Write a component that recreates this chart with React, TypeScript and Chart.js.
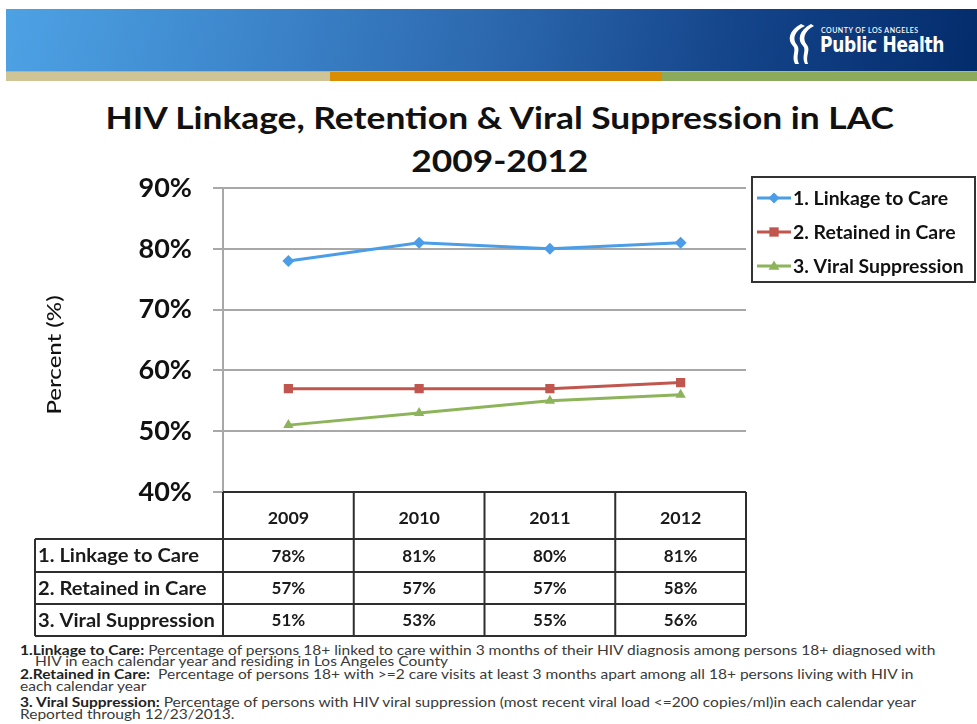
import React, { useEffect, useRef } from "react";
import { Chart, registerables } from "chart.js";

Chart.register(...registerables);

// ---- data ----
const years = ["2009", "2010", "2011", "2012"];
const linkageToCare = [78, 81, 80, 81];
const retainedInCare = [57, 57, 57, 58];
const viralSuppression = [51, 53, 55, 56];
const seriesLabels = ["1. Linkage to Care", "2. Retained in Care", "3. Viral Suppression"];
const seriesColors = ["#4A9DE6", "#C0564E", "#8DB45A"];
const seriesPoints = ["rectRot", "rect", "triangle"];
const yMin = 40;
const yMax = 90;
const yStep = 10;
const yAxisTitle = "Percent (%)";
const titleLine1 = "HIV Linkage, Retention & Viral Suppression in LAC";
const titleLine2 = "2009-2012";

const FONT = "Lato, 'Open Sans', 'DejaVu Sans', sans-serif";

function drawMarker(ctx: CanvasRenderingContext2D, style: string, x: number, y: number, r: number, color: string) {
  ctx.save();
  ctx.fillStyle = color;
  ctx.beginPath();
  if (style === "rectRot") {
    ctx.moveTo(x, y - r);
    ctx.lineTo(x + r, y);
    ctx.lineTo(x, y + r);
    ctx.lineTo(x - r, y);
  } else if (style === "rect") {
    ctx.rect(x - r * 0.85, y - r * 0.85, r * 1.7, r * 1.7);
  } else {
    ctx.moveTo(x, y - r);
    ctx.lineTo(x + r, y + r * 0.7);
    ctx.lineTo(x - r, y + r * 0.7);
  }
  ctx.closePath();
  ctx.fill();
  ctx.restore();
}

function fillStretched(ctx: CanvasRenderingContext2D, text: string, x: number, y: number, sx: number) {
  ctx.save();
  ctx.translate(x, y);
  ctx.scale(sx, 1);
  ctx.fillText(text, 0, 0);
  ctx.restore();
}

const tablePlugin = {
  id: "dataTable",
  afterDraw(chart: any) {
    const ctx: CanvasRenderingContext2D = chart.ctx;
    const area = chart.chartArea;
    const xs = chart.scales.x;
    const n = years.length;
    const colW = (area.right - area.left) / n;
    const top = area.bottom;
    const rows = [top, top + 47, top + 80, top + 112, top + 144];
    const tableLeft = 35;
    ctx.save();
    ctx.strokeStyle = "#2e2e2e";
    ctx.lineWidth = 2;
    ctx.beginPath();
    ctx.moveTo(area.left, rows[0]);
    ctx.lineTo(area.right, rows[0]);
    for (let r = 1; r < rows.length; r++) {
      ctx.moveTo(tableLeft, rows[r]);
      ctx.lineTo(area.right, rows[r]);
    }
    for (let i = 0; i <= n; i++) {
      const x = area.left + i * colW;
      ctx.moveTo(x, rows[0]);
      ctx.lineTo(x, rows[4]);
    }
    ctx.moveTo(tableLeft, rows[1]);
    ctx.lineTo(tableLeft, rows[4]);
    ctx.stroke();

    ctx.fillStyle = "#1a1a1a";
    ctx.textBaseline = "middle";
    ctx.font = `bold 17px ${FONT}`;
    ctx.textAlign = "center";
    years.forEach((yr, i) => {
      fillStretched(ctx, yr, xs.getPixelForValue(i), (rows[0] + rows[1]) / 2 + 3, 1.05);
    });
    chart.data.datasets.forEach((ds: any, r: number) => {
      const cy = (rows[r + 1] + rows[r + 2]) / 2 + 1;
      ctx.textAlign = "left";
      ctx.font = `bold 18px ${FONT}`;
      fillStretched(ctx, ds.label, tableLeft + 3, cy, 1.12);
      ctx.textAlign = "center";
      ctx.font = `bold 17px ${FONT}`;
      ds.data.forEach((v: number, i: number) => {
        fillStretched(ctx, v + "%", xs.getPixelForValue(i), cy, 1.0);
      });
    });

    // y axis title
    ctx.save();
    ctx.translate(55, 355);
    ctx.rotate(-Math.PI / 2);
    ctx.scale(1.2, 1);
    ctx.textAlign = "center";
    ctx.textBaseline = "middle";
    ctx.font = `500 20px ${FONT}`;
    ctx.fillStyle = "#111";
    ctx.fillText(yAxisTitle, 0, 0);
    ctx.restore();

    // legend box
    const lx = 752, ly = 177, lw = 223, lh = 105;
    ctx.strokeStyle = "#333";
    ctx.lineWidth = 2;
    ctx.fillStyle = "#fff";
    ctx.fillRect(lx, ly, lw, lh);
    ctx.strokeRect(lx, ly, lw, lh);
    const ys = [198, 232, 266];
    chart.data.datasets.forEach((ds: any, i: number) => {
      const y = ys[i];
      ctx.strokeStyle = ds.borderColor;
      ctx.lineWidth = 3;
      ctx.beginPath();
      ctx.moveTo(757, y);
      ctx.lineTo(791, y);
      ctx.stroke();
      drawMarker(ctx, ds.pointStyle, 774, y, 5.5, ds.borderColor);
      ctx.fillStyle = "#111";
      ctx.textAlign = "left";
      ctx.textBaseline = "middle";
      ctx.font = `bold 18px ${FONT}`;
      fillStretched(ctx, ds.label, 793, y + 1, 1.08);
    });
    ctx.restore();
  },
};

function Logo() {
  return (
    <div style={{ position: "absolute", left: 783, top: 18, width: 170, height: 50 }}>
      <svg width="40" height="50" style={{ position: "absolute", left: 0, top: 0 }}>
        <path d="M18 6 C6 12 4 22 10 28 C14 32 8 38 12 46 L16 46 C12 38 18 32 14 27 C9 21 11 13 22 8 Z" fill="#fff" />
        <path d="M28 6 C16 12 14 22 20 28 C24 32 18 38 22 46 L25 46 C22 38 28 32 24 27 C19 21 21 13 31 8 Z" fill="#fff" />
      </svg>
      <div style={{ position: "absolute", left: 38, top: 8, color: "#fff", fontFamily: FONT, fontSize: 7, fontWeight: 600, letterSpacing: 0.5, whiteSpace: "nowrap" }}>
        COUNTY OF LOS ANGELES
      </div>
      <div style={{ position: "absolute", left: 37, top: 15, color: "#fff", fontFamily: "'DejaVu Sans Condensed', 'Liberation Sans Narrow', " + FONT, fontSize: 21, fontWeight: 800, whiteSpace: "nowrap", letterSpacing: -0.3, transform: "scaleX(0.9)", transformOrigin: "left center" }}>
        Public Health
      </div>
    </div>
  );
}

const footLines: { bold: string; text: string; left: number; top: number }[] = [
  { bold: "1.Linkage to Care:", text: " Percentage of persons 18+ linked to care within 3 months of their HIV diagnosis among persons 18+ diagnosed with", left: 20, top: 643 },
  { bold: "", text: "HIV in each calendar year and residing in Los Angeles County", left: 35, top: 654 },
  { bold: "2.Retained in Care:", text: "  Percentage of persons 18+ with >=2 care visits at least 3 months apart among all 18+ persons living with HIV in", left: 20, top: 667 },
  { bold: "", text: "each calendar year", left: 20, top: 679 },
  { bold: "3. Viral Suppression:", text: " Percentage of persons with HIV viral suppression (most recent viral load <=200 copies/ml)in each calendar year", left: 20, top: 695 },
  { bold: "", text: "Reported through 12/23/2013.", left: 20, top: 707 },
];

export default function App() {
  const canvasRef = useRef<HTMLCanvasElement | null>(null);

  useEffect(() => {
    if (!canvasRef.current) return;
    const chart = new Chart(canvasRef.current, {
      type: "line",
      data: {
        labels: years,
        datasets: [linkageToCare, retainedInCare, viralSuppression].map((d, i) => ({
          label: seriesLabels[i],
          data: d,
          borderColor: seriesColors[i],
          backgroundColor: seriesColors[i],
          borderWidth: 3,
          pointStyle: seriesPoints[i] as any,
          pointRadius: i === 1 ? 6.5 : 6,
          pointBorderWidth: 0,
          tension: 0,
        })),
      },
      options: {
        animation: false,
        responsive: false,
        devicePixelRatio: 1,
        layout: { padding: { left: 100, top: 188, right: 231, bottom: 232 } },
        plugins: { legend: { display: false }, tooltip: { enabled: false }, title: { display: false } },
        scales: {
          x: {
            display: false,
            offset: true,
          },
          y: {
            min: yMin,
            max: yMax,
            afterFit: (s: any) => {
              s.width = 123;
            },
            ticks: {
              stepSize: yStep,
              padding: 21,
              color: "#111",
              font: { family: FONT, size: 27, weight: "bold" },
              callback: (v: any) => v + "%",
            },
            grid: { color: "#A8A8A8", lineWidth: 2, tickLength: 10 },
            border: { color: "#A8A8A8", width: 2 },
          },
        },
      },
      plugins: [tablePlugin],
    });
    return () => chart.destroy();
  }, []);

  return (
    <div style={{ position: "absolute", left: 0, top: 0, width: 977, height: 724, background: "#fff", overflow: "hidden" }}>
      <div
        style={{
          position: "absolute",
          left: 6,
          top: 9,
          width: 971,
          height: 62,
          background: "linear-gradient(100deg, #4DA2E4 0%, #3D86CC 25%, #2C68AE 50%, #14448A 75%, #032C6C 100%)",
        }}
      />
      <div style={{ position: "absolute", left: 6, top: 71, width: 971, height: 1, background: "#9DB3C8" }} />
      <div style={{ position: "absolute", left: 6, top: 72, width: 324, height: 9, background: "#CFC496" }} />
      <div style={{ position: "absolute", left: 330, top: 72, width: 332, height: 9, background: "#D98E02" }} />
      <div style={{ position: "absolute", left: 662, top: 72, width: 315, height: 9, background: "#8BAA5C" }} />
      <Logo />
      <div style={{ position: "absolute", left: 0, top: 96, width: 1000, textAlign: "center", fontFamily: FONT, fontWeight: 700, fontSize: 31, lineHeight: "43px", color: "#111" }}>
        <div style={{ display: "inline-block", transform: "scaleX(1.14)", transformOrigin: "center" }}>
          {titleLine1}
          <br />
          {titleLine2}
        </div>
      </div>
      {footLines.map((l, i) => (
        <div key={i} style={{ position: "absolute", left: l.left, top: l.top, fontFamily: FONT, fontSize: 13.5, lineHeight: "14px", color: "#3a3a3a", whiteSpace: "pre", transform: "scaleX(1.15)", transformOrigin: "left center" }}>
          {l.bold ? <b style={{ color: "#222" }}>{l.bold}</b> : null}
          {l.text}
        </div>
      ))}
      <canvas ref={canvasRef} width={977} height={724} style={{ position: "absolute", left: 0, top: 0, width: 977, height: 724 }} />
    </div>
  );
}
